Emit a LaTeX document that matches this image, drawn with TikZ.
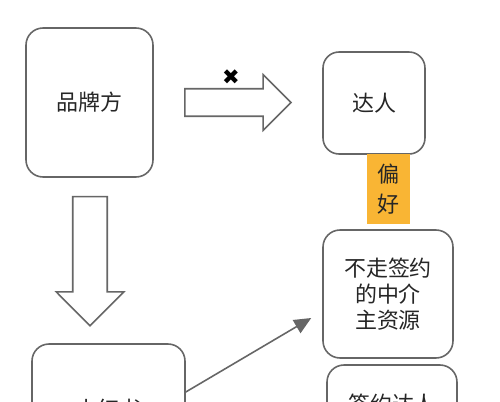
\documentclass[tikz,border=0pt]{standalone}
\usepackage{xcolor}
\usepackage{fontspec}
\setmainfont{Noto Sans CJK SC}
\newfontfamily\symfont{DejaVu Sans}
\usetikzlibrary{arrows.meta, shapes.arrows}

\definecolor{edgegray}{HTML}{666666}
\definecolor{prefyellow}{RGB}{249,181,52}

\begin{document}
\begin{tikzpicture}[x=0.02cm, y=-0.02cm, >={Triangle[length=0.34cm, width=0.3cm]},
  box/.style={rectangle, draw=edgegray, line width=0.9pt, rounded corners=0.34cm, align=center, text=black!85, font=\fontsize{12.5}{15}\selectfont},
  hollow/.style={single arrow, draw=edgegray, line width=0.9pt, inner xsep=0pt, single arrow head extend=#1, single arrow tip angle=90},
  tag/.style={rectangle, fill=prefyellow, inner sep=0pt, align=center, text=black!85, font=\fontsize{12.5}{17}\selectfont}]
\useasboundingbox (0,0) rectangle (500,402);
\clip (0,0) rectangle (500,402);
\fill[white] (0,0) rectangle (500,402);
% boxes
\node [box, minimum width=2.54cm, minimum height=2.98cm] (brand) at (89.5,102.5) {品牌方};
\node [box, minimum width=2.04cm, minimum height=2.04cm, rounded corners=0.32cm] (daren) at (374,103) {达人};
\node [tag, minimum width=0.86cm, minimum height=1.4cm] (pref) at (388.5,189) {偏\\好};
\node [box, minimum width=2.6cm, minimum height=2.56cm] (broker) at (388,294) {不走签约\\的中介\\主资源};
\node [box, minimum width=3.06cm, minimum height=2.6cm] (xhs) at (108.5,409) {小红书};
\node [box, minimum width=2.6cm, minimum height=1.56cm] (signed) at (392,404) {签约达人};
% block arrows
\node [hollow=0.28cm, inner ysep=0.26cm, minimum height=2.12cm] (toDaren) at (231,102.5) {};
\node [hollow=0.33cm, inner ysep=0.33cm, minimum height=2.58cm, rotate=-90] (toXhs) at (90,252.5) {};
\node [font=\symfont\fontsize{12}{12}\selectfont] (cross) at (231,77) {✖};
% connector
\draw [->, edgegray, line width=0.9pt] ([yshift=0.34cm]xhs.east) -- ([xshift=-0.22cm, yshift=-0.48cm]broker.west);
\end{tikzpicture}
\end{document}
